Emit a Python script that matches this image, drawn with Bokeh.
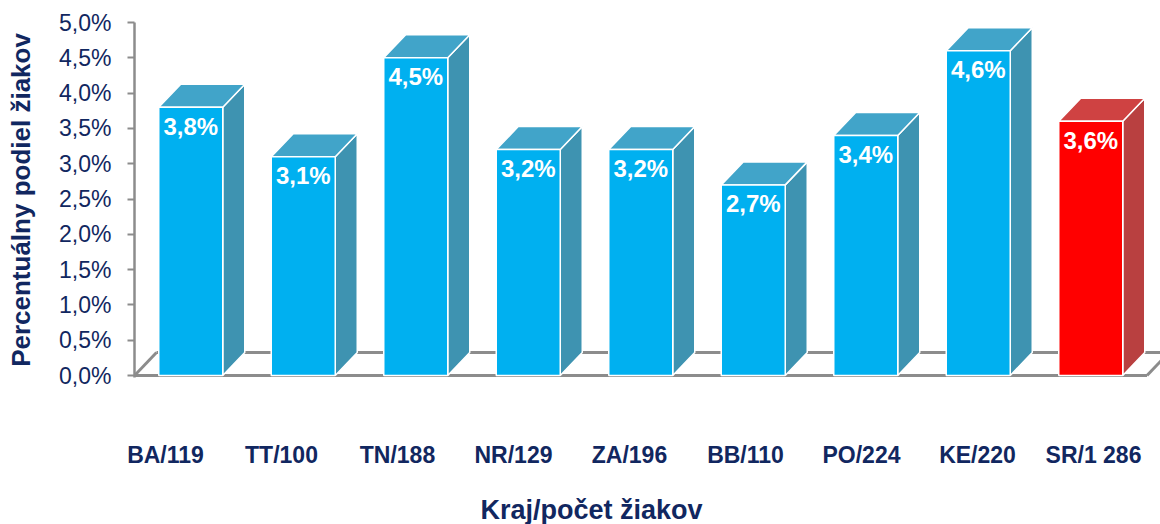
from bokeh.plotting import figure
from bokeh.models import Range1d, FixedTicker, LinearAxis, CustomJSTickFormatter, Title, ColumnDataSource
from bokeh.embed import file_html
from bokeh.resources import INLINE

# ---- data ----
categories = ["BA/119", "TT/100", "TN/188", "NR/129", "ZA/196", "BB/110", "PO/224", "KE/220", "SR/1 286"]
values = [3.8, 3.1, 4.5, 3.2, 3.2, 2.7, 3.4, 4.6, 3.6]
y_ticks = [0.0, 0.5, 1.0, 1.5, 2.0, 2.5, 3.0, 3.5, 4.0, 4.5, 5.0]
y_title = "Percentuálny podiel žiakov"
x_title = "Kraj/počet žiakov"

# ---- style ----
NAVY = "#112760"
FONT = "Liberation Sans"
FRONT = ["#00B0F0"] * 8 + ["#FF0000"]
TOPC = ["#41A4C9"] * 8 + ["#CF4242"]
SIDE = ["#3E93B1"] * 8 + ["#B94040"]
FLOOR = "#8C8C8C"

W, H = 1160, 524
LEFT, TOPB, BOTTOM = 134, 22, 147
frame_w = W - LEFT
frame_h = H - TOPB - BOTTOM
slot = 112.5                      # px per category
x_end = frame_w / slot
y_lo = -0.028
px_per_y = frame_h / (5.0 - y_lo)
half = 32 / slot                  # half bar width in data units
dx = 22 / slot                    # depth offset (x)
dy = 23 / px_per_y                # depth offset (y)

p = figure(width=W, height=H, output_backend="svg", toolbar_location=None,
           x_range=Range1d(0, x_end), y_range=Range1d(y_lo, 5.0),
           x_axis_location=None, min_border_left=LEFT, min_border_right=0,
           min_border_top=TOPB, min_border_bottom=BOTTOM)
p.outline_line_color = None
p.xgrid.visible = False
p.ygrid.visible = False
p.background_fill_color = "white"
p.border_fill_color = "white"

# ---- floor ----
n = len(categories)
p.multi_line(xs=[[0, n], [dx, n + dx], [0, dx], [n, n + dx]],
             ys=[[0, 0], [dy, dy], [0, dy], [0, dy]],
             line_color=FLOOR, line_width=3)

# ---- 3D bars ----
centers = [i + 0.5 for i in range(n)]
front_x, front_y, top_x, top_y, side_x, side_y = [], [], [], [], [], []
for c, v in zip(centers, values):
    l, r = c - half, c + half
    front_x.append([l, r, r, l]); front_y.append([0, 0, v, v])
    top_x.append([l, r, r + dx, l + dx]); top_y.append([v, v, v + dy, v + dy])
    side_x.append([r, r + dx, r + dx, r]); side_y.append([0, dy, v + dy, v])

p.patches(side_x, side_y, fill_color=SIDE, line_color="white", line_width=1.5)
p.patches(top_x, top_y, fill_color=TOPC, line_color="white", line_width=1.5)
p.patches(front_x, front_y, fill_color=FRONT, line_color="white", line_width=1.5)

labels = [("%.1f" % v).replace(".", ",") + "%" for v in values]
src = ColumnDataSource(dict(x=centers, y=values, t=labels))
p.text(x="x", y="y", text="t", source=src, text_align="center", text_baseline="middle",
       y_offset=19, text_color="white", text_font_style="bold", text_font_size="24px",
       text_font={"value": FONT})

# ---- y axis ----
ya = p.yaxis[0]
ya.ticker = FixedTicker(ticks=y_ticks)
ya.formatter = CustomJSTickFormatter(code="return tick.toFixed(1).replace('.', ',') + '%';")
ya.axis_line_color = FLOOR
ya.axis_line_width = 2.5
ya.major_tick_line_color = FLOOR
ya.major_tick_line_width = 2
ya.major_tick_out = 7
ya.major_tick_in = 0
ya.minor_tick_line_color = None
ya.major_label_standoff = 16
ya.major_label_text_font = FONT
ya.major_label_text_font_size = "23px"
ya.major_label_text_color = NAVY
ya.axis_label = y_title
ya.axis_label_text_font = FONT
ya.axis_label_text_font_size = "26px"
ya.axis_label_text_font_style = "bold"
ya.axis_label_text_color = NAVY
ya.axis_label_standoff = 20

# ---- x label axis (labels sit on a slightly different perspective scale) ----
lab0, lab_step = 165.0, 116.0
p.extra_x_ranges = {"lab": Range1d((LEFT - lab0) / lab_step, (W - lab0) / lab_step)}
xa = LinearAxis(x_range_name="lab", ticker=FixedTicker(ticks=list(range(n))),
                major_label_overrides={i: c for i, c in enumerate(categories)})
xa.axis_line_color = None
xa.major_tick_line_color = None
xa.minor_tick_line_color = None
xa.major_tick_out = 0
xa.major_tick_in = 0
xa.major_label_standoff = 64
xa.major_label_text_font = FONT
xa.major_label_text_font_size = "23px"
xa.major_label_text_font_style = "bold"
xa.major_label_text_color = NAVY
# blank spacer label so that the title below sits lower
xa.axis_label = "\u00a0"
xa.axis_label_text_font_size = "17px"
xa.axis_label_standoff = 0
p.add_layout(xa, "below")

t = Title(text=x_title, align="left", offset=346, text_font=FONT, text_font_size="27px",
          text_font_style="bold", text_color=NAVY, standoff=0)
p.add_layout(t, "below")

open("out.html", "w").write(file_html(p, INLINE))
